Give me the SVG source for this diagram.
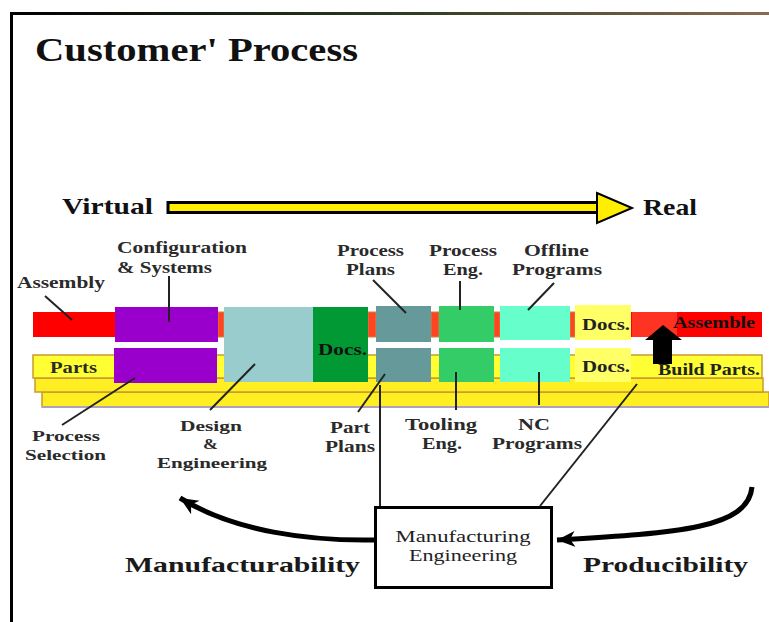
<svg xmlns="http://www.w3.org/2000/svg" width="769" height="622" viewBox="0 0 769 622">
<defs>
<linearGradient id="topline" x1="0" y1="0" x2="1" y2="0">
<stop offset="0" stop-color="#000"/><stop offset="0.5" stop-color="#2a3a20"/><stop offset="1" stop-color="#8a6a50"/>
</linearGradient>
<marker id="head" markerUnits="userSpaceOnUse" markerWidth="20" markerHeight="20" refX="18" refY="10" orient="auto" viewBox="0 0 20 20">
<path d="M0,2 L18,10 L0,18 L5,10 z" fill="#000"/>
</marker>
<style>
.lbl{font-family:"Liberation Serif","Times New Roman",serif;font-weight:bold;font-size:17px;fill:#2a2a2a}
.sm{font-size:15px}
.big{font-family:"Liberation Serif","Times New Roman",serif;font-weight:bold;fill:#111}
.con{stroke:#222;stroke-width:2;fill:none}
.gap{fill:#ff4422;stroke:#cc8844;stroke-width:1}
.yb{stroke:#c89a30;stroke-width:1.5}
</style>
</defs>
<rect width="769" height="622" fill="#fff"/>
<!-- frame -->
<rect x="10" y="12" width="759" height="3" fill="url(#topline)"/>
<rect x="10" y="12" width="3" height="610" fill="#000"/>
<text class="big" x="35" y="61" font-size="34" textLength="323" lengthAdjust="spacingAndGlyphs">Customer' Process</text>

<!-- virtual real arrow -->
<g id="virtual-real">
<text class="big" x="62" y="214" font-size="24" textLength="91" lengthAdjust="spacingAndGlyphs">Virtual</text>
<rect x="168" y="202.5" width="432" height="10" fill="#ffee00" stroke="#000" stroke-width="3"/>
<polygon points="597,193 632,208 597,223" fill="#ffee00" stroke="#000" stroke-width="2"/>
<text class="big" x="643" y="215" font-size="24" textLength="54" lengthAdjust="spacingAndGlyphs">Real</text>
</g>

<!-- background bars -->
<g id="bars">
<rect x="42" y="392" width="727" height="15" fill="#ffee22" class="yb"/>
<rect x="42" y="406" width="727" height="2" fill="#b0a0c0"/>
<rect x="35" y="378" width="728" height="14" fill="#ffee22" class="yb"/>
<rect x="33" y="355" width="729" height="23" fill="#ffff33" class="yb"/>
<rect x="33" y="312" width="729" height="25" fill="#ff0000"/>
<rect x="632" y="312" width="45" height="25" fill="#ff3322"/>
</g>

<g id="assembly-bar"><text class="lbl" x="17" y="288" textLength="88" lengthAdjust="spacingAndGlyphs">Assembly</text></g>
<g id="parts-bar"><text class="lbl" x="50" y="373" textLength="47" lengthAdjust="spacingAndGlyphs">Parts</text></g>

<!-- gaps -->
<rect class="gap" x="218" y="312" width="6" height="25"/>
<rect class="gap" x="368" y="312" width="8" height="25"/>
<rect class="gap" x="431" y="312" width="8" height="25"/>
<rect class="gap" x="494" y="312" width="6" height="25"/>
<rect class="gap" x="570" y="312" width="5" height="25"/>

<g id="config-systems">
<rect x="115" y="307" width="103" height="35" fill="#9900cc"/>
<text class="lbl" x="117" y="253" textLength="130" lengthAdjust="spacingAndGlyphs">Configuration</text>
<text class="lbl" x="117" y="273" textLength="95" lengthAdjust="spacingAndGlyphs">&amp; Systems</text>
</g>
<g id="process-selection">
<rect x="114" y="348" width="103" height="35" fill="#9900cc"/>
<text class="lbl sm" x="32" y="441" textLength="68" lengthAdjust="spacingAndGlyphs">Process</text>
<text class="lbl sm" x="25" y="460" textLength="81" lengthAdjust="spacingAndGlyphs">Selection</text>
</g>
<g id="design-engineering">
<rect x="224" y="307" width="89" height="75" fill="#99cccc"/>
<text class="lbl sm" x="180" y="431" textLength="62" lengthAdjust="spacingAndGlyphs">Design</text>
<text class="lbl sm" x="203" y="449" textLength="15" lengthAdjust="spacingAndGlyphs">&amp;</text>
<text class="lbl sm" x="157" y="468" textLength="110" lengthAdjust="spacingAndGlyphs">Engineering</text>
</g>
<g id="docs-green">
<rect x="313" y="307" width="55" height="75" fill="#009933"/>
<text class="lbl" x="318" y="355" textLength="49" lengthAdjust="spacingAndGlyphs" style="fill:#111">Docs.</text>
</g>
<g id="process-plans">
<rect x="376" y="306" width="55" height="36" fill="#669999"/>
<text class="lbl" x="337" y="256" textLength="67" lengthAdjust="spacingAndGlyphs">Process</text>
<text class="lbl" x="346" y="275" textLength="49" lengthAdjust="spacingAndGlyphs">Plans</text>
</g>
<g id="part-plans">
<rect x="376" y="348" width="55" height="34" fill="#669999"/>
<text class="lbl" x="330" y="433" textLength="40" lengthAdjust="spacingAndGlyphs">Part</text>
<text class="lbl" x="325" y="452" textLength="50" lengthAdjust="spacingAndGlyphs">Plans</text>
</g>
<g id="process-eng">
<rect x="439" y="306" width="55" height="36" fill="#33cc66"/>
<text class="lbl" x="429" y="256" textLength="68" lengthAdjust="spacingAndGlyphs">Process</text>
<text class="lbl" x="443" y="275" textLength="40" lengthAdjust="spacingAndGlyphs">Eng.</text>
</g>
<g id="tooling-eng">
<rect x="439" y="348" width="55" height="34" fill="#33cc66"/>
<text class="lbl" x="405" y="430" textLength="72" lengthAdjust="spacingAndGlyphs">Tooling</text>
<text class="lbl" x="422" y="449" textLength="40" lengthAdjust="spacingAndGlyphs">Eng.</text>
</g>
<g id="offline-programs">
<rect x="500" y="306" width="70" height="34" fill="#66ffcc"/>
<text class="lbl" x="524" y="256" textLength="65" lengthAdjust="spacingAndGlyphs">Offline</text>
<text class="lbl" x="512" y="275" textLength="90" lengthAdjust="spacingAndGlyphs">Programs</text>
</g>
<g id="nc-programs">
<rect x="500" y="348" width="70" height="34" fill="#66ffcc"/>
<text class="lbl" x="518" y="430" textLength="32" lengthAdjust="spacingAndGlyphs">NC</text>
<text class="lbl" x="492" y="449" textLength="90" lengthAdjust="spacingAndGlyphs">Programs</text>
</g>
<g id="docs-top">
<rect x="575" y="305" width="56" height="35" fill="#ffff66"/>
<text class="lbl" x="582" y="330" textLength="48" lengthAdjust="spacingAndGlyphs" style="fill:#222">Docs.</text>
</g>
<g id="docs-bottom">
<rect x="575" y="348" width="56" height="34" fill="#ffff66"/>
<text class="lbl" x="582" y="372" textLength="48" lengthAdjust="spacingAndGlyphs" style="fill:#222">Docs.</text>
</g>
<g id="assemble">
<text class="lbl" x="673" y="328" textLength="82" lengthAdjust="spacingAndGlyphs" style="fill:#111">Assemble</text>
</g>
<g id="build-parts">
<text class="lbl" x="658" y="375" textLength="102" lengthAdjust="spacingAndGlyphs" style="fill:#222">Build Parts.</text>
</g>
<g id="up-arrow">
<polygon points="663,325 682,340 672,340 672,364 653,364 653,340 645,340" fill="#000"/>
</g>

<g id="manufacturing-engineering">
<rect x="375.5" y="507.5" width="176" height="80" fill="#fff" stroke="#000" stroke-width="3"/>
<text class="lbl" x="463" y="542" text-anchor="middle" font-size="16" textLength="135" lengthAdjust="spacingAndGlyphs" style="font-weight:normal;fill:#222">Manufacturing</text>
<text class="lbl" x="463" y="561" text-anchor="middle" font-size="16" textLength="108" lengthAdjust="spacingAndGlyphs" style="font-weight:normal;fill:#222">Engineering</text>
</g>
<g id="manufacturability"><text class="big" x="125" y="572" font-size="22" textLength="235" lengthAdjust="spacingAndGlyphs" style="fill:#1a1a1a">Manufacturability</text></g>
<g id="producibility"><text class="big" x="583" y="572" font-size="22" textLength="165" lengthAdjust="spacingAndGlyphs" style="fill:#1a1a1a">Producibility</text></g>

<g id="connectors">
<line class="con" x1="45" y1="296" x2="72" y2="320"/>
<line class="con" x1="169" y1="276" x2="169" y2="322"/>
<line class="con" x1="373" y1="280" x2="406" y2="313"/>
<line class="con" x1="460" y1="281" x2="460" y2="310"/>
<line class="con" x1="554" y1="283" x2="528" y2="310"/>
<line class="con" x1="62" y1="425" x2="135" y2="378"/>
<line class="con" x1="210" y1="410" x2="255" y2="364"/>
<line class="con" x1="358" y1="412" x2="385" y2="374"/>
<line class="con" x1="380" y1="385" x2="380" y2="506"/>
<line class="con" x1="456" y1="372" x2="456" y2="410"/>
<line class="con" x1="539" y1="372" x2="539" y2="405"/>
<line class="con" x1="637" y1="384" x2="540" y2="506"/>
<path d="M374,540 C 310,541 235,532 180,498" stroke="#000" stroke-width="5" fill="none" marker-end="url(#head)"/>
<path d="M752,487 C 748,528 680,533 557,540" stroke="#000" stroke-width="5" fill="none" marker-end="url(#head)"/>
</g>
</svg>
